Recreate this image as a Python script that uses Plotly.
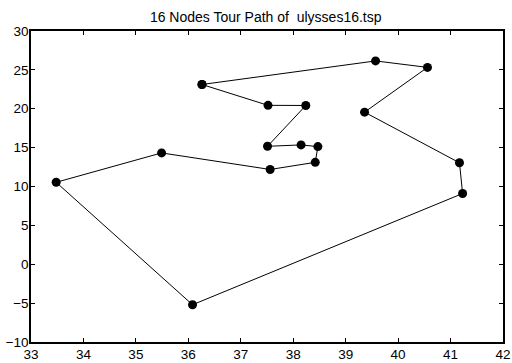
import plotly.graph_objects as go

# ulysses16 city coordinates, listed in tour order (closed back to the start)
tour_x = [36.26, 37.52, 38.24, 37.51, 38.15, 38.47, 38.42, 37.56, 35.49, 33.48,
          36.08, 41.23, 41.17, 39.36, 40.56, 39.57, 36.26]
tour_y = [23.12, 20.44, 20.42, 15.17, 15.35, 15.13, 13.11, 12.19, 14.32, 10.54,
          -5.21, 9.10, 13.05, 19.56, 25.32, 26.15, 23.12]

x_ticks = [33, 34, 35, 36, 37, 38, 39, 40, 41, 42]
y_ticks = [-10, -5, 0, 5, 10, 15, 20, 25, 30]

fig = go.Figure()
fig.add_trace(go.Scatter(
    x=tour_x, y=tour_y, mode="lines+markers",
    line=dict(color="black", width=1),
    marker=dict(color="black", size=9),
    showlegend=False, hoverinfo="skip",
))

axis_common = dict(
    showline=True, linecolor="black", linewidth=1.5, mirror="ticks",
    ticks="inside", ticklen=4, tickwidth=1, tickcolor="black",
    showgrid=False, zeroline=False, automargin=False,
    tickfont=dict(family="Liberation Sans, Arial", size=13.5, color="black"),
)

fig.update_layout(
    width=512, height=363,
    margin=dict(l=31, r=9, t=31, b=21),
    paper_bgcolor="white", plot_bgcolor="white",
    title=dict(text="16 Nodes Tour Path of \u00a0ulysses16.tsp",
               x=0.519, xanchor="center", y=0.953, yanchor="middle",
               font=dict(family="Liberation Sans, Arial", size=14, color="black")),
    xaxis=dict(range=[33, 42], tickvals=x_ticks, ticklabelstandoff=-1, **axis_common),
    yaxis=dict(range=[-10, 30], tickvals=y_ticks, ticklabelstandoff=-2, **axis_common),
)

fig.write_html("out.html")
